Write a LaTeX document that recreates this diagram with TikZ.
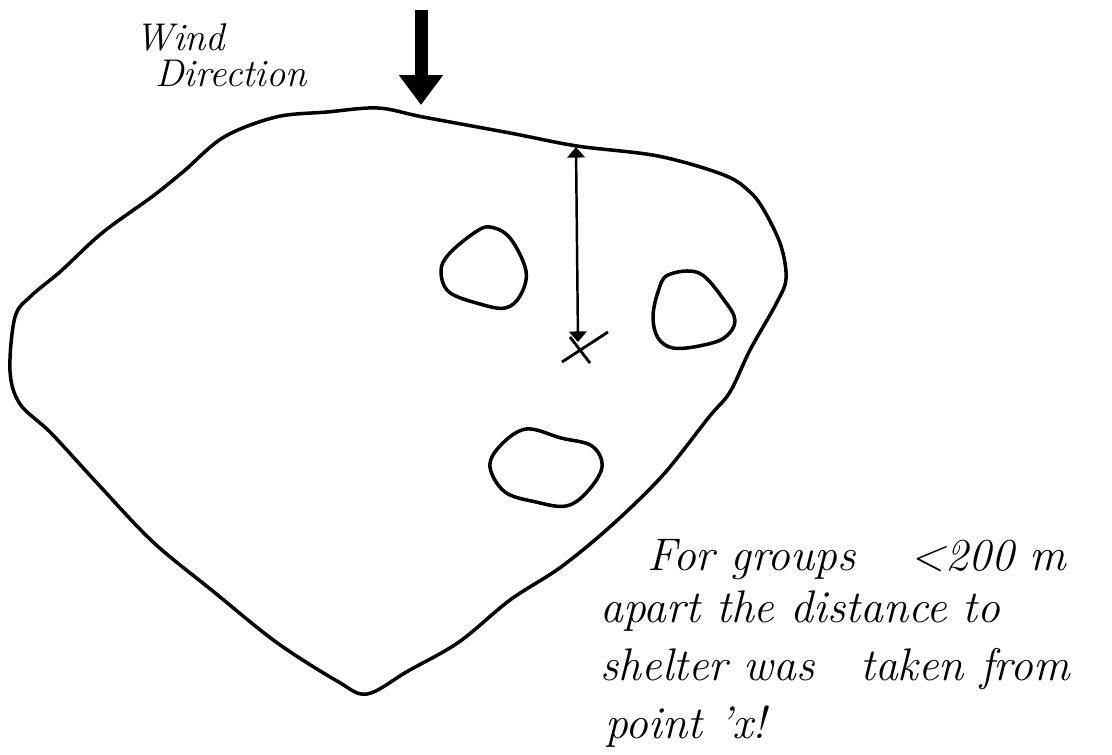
\documentclass[tikz,border=0pt]{standalone}
\usetikzlibrary{arrows.meta}
\tikzset{
  outline/.style={line width=2pt,line join=round},
  note/.style={font=\fontsize{26}{30}\selectfont\itshape,anchor=base west,inner sep=0pt},
  label/.style={font=\fontsize{22}{26}\selectfont\itshape,anchor=base west,inner sep=0pt},
}
\begin{document}
\begin{tikzpicture}[x=0.02cm,y=-0.02cm]
  \useasboundingbox (0,0) rectangle (1112,754);
  % Wind
  \coordinate (windtop) at (421,10);
  \coordinate (windtip) at (421,105);
  \draw[line width=7.4pt,-{Triangle[length=17pt,width=24pt]}] (windtop) -- (windtip);
  \node[label] (wind) at (135,50) {Wind};
  \node[label] (direction) at (155,86) {Direction};
  % Ground
  \draw[outline] plot[smooth cycle,tension=0.55] coordinates {
    (367,694) (337,681) (276,642) (214,592) (153,542) (97,483) (51,433)
    (20,404) (10,371) (15,317) (31,296) (61,271) (102,233) (153,196)
    (184,171) (224,137) (276,117) (327,112) (378,108) (423,117) (510,133)
    (577,146) (658,156) (724,175) (750,192) (765,212) (781,246) (786,279)
    (776,304) (750,350) (730,392) (709,417) (663,475) (612,525) (561,567)
    (510,600) (459,642) (408,671)};
  % Shelters
  \draw[outline] plot[smooth cycle,tension=0.6] coordinates {
    (490,227) (510,238) (526,271) (520,296) (505,308) (480,304) (449,292)
    (441,271) (449,254) (474,233)};
  \draw[outline] plot[smooth cycle,tension=0.6] coordinates {
    (668,275) (699,273) (724,300) (735,321) (724,338) (699,346) (673,348)
    (658,338) (653,317) (658,292)};
  \draw[outline] plot[smooth cycle,tension=0.6] coordinates {
    (526,429) (561,438) (592,446) (602,467) (587,492) (566,506) (536,502)
    (505,492) (490,467) (500,446)};
  % Distance to point x
  \coordinate (rim) at (576,147);
  \coordinate (pointx) at (578,342);
  \draw[line width=1.4pt,{Triangle[length=6pt,width=10pt]}-{Triangle[length=6pt,width=10pt]}] (rim) -- (pointx);
  \draw[line width=1.6pt] (562,362) -- (608,332) (570,337) -- (590,363);
  % Note
  \node[note] (line1) at (647,570) {For groups\hspace{1.2em}\textless200 m};
  \node[note] (line2) at (600,622) {apart the distance to};
  \node[note] (line3) at (600,680) {shelter was\hspace{1em}taken from};
  \node[note] (line4) at (605,738) {point 'x!};
\end{tikzpicture}
\end{document}
